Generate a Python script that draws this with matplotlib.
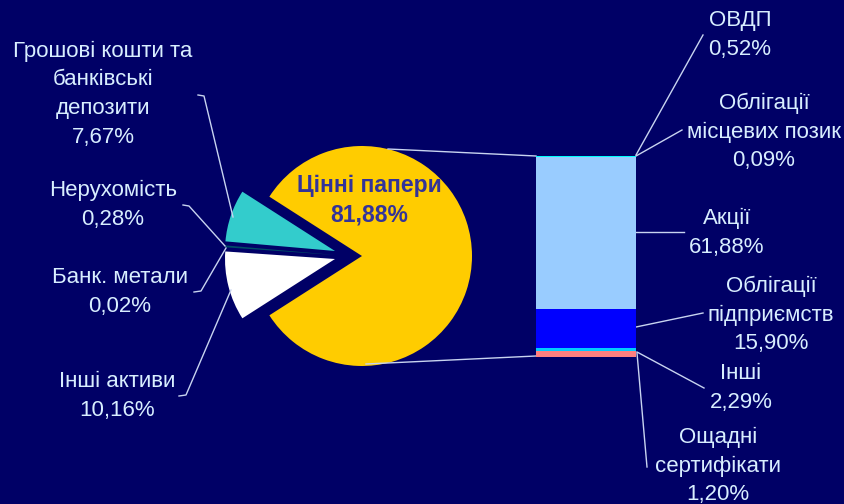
import matplotlib
matplotlib.use("Agg")
import matplotlib.pyplot as plt

plt.rcParams["font.family"] = ["Liberation Sans", "DejaVu Sans"]

# дані
pie_labels = ["Цінні папери", "Грошові кошти та\nбанківські\nдепозити", "Нерухомість",
              "Банк. метали", "Інші активи"]
pie_values = [81.88, 7.67, 0.28, 0.02, 10.16]
pie_pct = ["81,88%", "7,67%", "0,28%", "0,02%", "10,16%"]
pie_colors = ["#FFCC00", "#33CCCC", "#004C66", "#000080", "#FFFFFF"]

bar_labels = ["Інші", "Ощадні\nсертифікати", "Облігації\nпідприємств", "Акції",
              "Облігації\nмісцевих позик", "ОВДП"]
bar_values = [2.29, 1.20, 15.90, 61.88, 0.09, 0.52]
bar_pct = ["2,29%", "1,20%", "15,90%", "61,88%", "0,09%", "0,52%"]
bar_colors = ["#FF8080", "#00CCFF", "#0000FF", "#99CCFF", "#3399FF", "#00FFFF"]

BG = "#000066"
TXT = "#D8EEFF"
LINE = "#C8D4F0"
W, H = 845, 504


def iy(y):
    # координата y з картинки (зверху вниз) -> дані
    return H - y


fig = plt.figure(figsize=(W / 100, H / 100), dpi=100, facecolor=BG)
ax = fig.add_axes([0, 0, 1, 1])
ax.set_facecolor(BG)

# кругова діаграма
cx, cy, r = 362, iy(256), 110
start = -pie_values[0] / sum(pie_values) * 180
wedges, _ = ax.pie(pie_values, colors=pie_colors, startangle=start, radius=r,
                   center=(cx, cy), counterclock=True,
                   wedgeprops=dict(linewidth=0))
shifts = [(0, 0), (-27, 5), (-27, 1), (-27, 0), (-27, -3)]
for w, (dx, dy) in zip(wedges, shifts):
    w.set_center((cx + dx, cy + dy))

ax.set_xlim(0, W)
ax.set_ylim(0, H)
ax.set_aspect("equal")
ax.axis("off")

# стовпчик
bx = fig.add_axes([536 / W, (H - 356.7) / H, 100 / W, 201 / H])
bottom = 0
for v, c in zip(bar_values, bar_colors):
    bx.bar(0, v, width=1, bottom=bottom, color=c, linewidth=0)
    bottom += v
bx.set_xlim(-0.5, 0.5)
bx.set_ylim(0, sum(bar_values))
bx.axis("off")

# лінії з'єднання
ax.plot([388, 536], [iy(149), iy(156)], color=LINE, lw=1)
ax.plot([366, 536], [iy(364), iy(356)], color=LINE, lw=1)

fs = 16
ls = 1.48

# підпис усередині
ax.text(369, iy(200), f"{pie_labels[0]}\n{pie_pct[0]}", ha="center", va="center",
        fontsize=16.5, fontweight="bold", color="#333399", linespacing=1.35)

# ліві підписи
left_pos = [(103, 94), (113, 205), (120, 292), (117, 396)]
for (x, y), lab, p in zip(left_pos, pie_labels[1:], pie_pct[1:]):
    ax.text(x, iy(y), f"{lab}\n{p}", ha="center", va="center", fontsize=fs,
            color=TXT, linespacing=ls)

# праві підписи
right_pos = [(741, 388), (718, 466), (771, 315), (727, 233), (764, 132), (740, 35)]
for (x, y), lab, p in zip(right_pos, bar_labels, bar_pct):
    ax.text(x, iy(y), f"{lab}\n{p}", ha="center", va="center", fontsize=fs,
            color=TXT, linespacing=ls)

# лінії-виноски
leaders = [
    [(198, 95), (204, 96), (233, 217)],
    [(183, 205), (189, 206), (225, 246)],
    [(194, 292), (201, 291), (226, 248)],
    [(179, 396), (186, 395), (231, 290)],
    [(703, 35), (636, 155)],
    [(682, 130), (636, 156)],
    [(636, 232), (684, 232)],
    [(703, 313), (636, 327)],
    [(704, 388), (637, 352)],
    [(647, 467), (637, 353)],
]
for pts in leaders:
    xs = [p[0] for p in pts]
    ys = [iy(p[1]) for p in pts]
    ax.plot(xs, ys, color=LINE, lw=1)

fig.savefig("out.png", dpi=100, facecolor=BG)
